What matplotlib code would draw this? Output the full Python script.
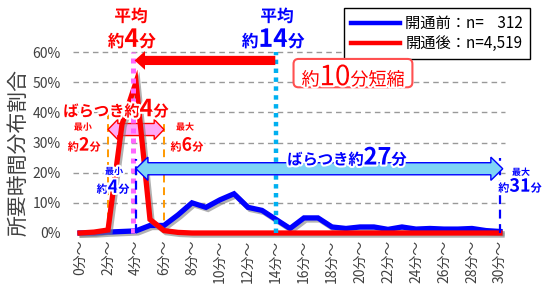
import matplotlib
matplotlib.use('Agg')
import matplotlib.pyplot as plt
import matplotlib.patheffects as pe
from matplotlib.patches import Polygon, FancyBboxPatch
from matplotlib.transforms import IdentityTransform
from matplotlib.ticker import PercentFormatter
from matplotlib.lines import Line2D

plt.rcParams['font.family'] = ['Noto Sans CJK JP', 'DejaVu Sans']

# data (share of trips per 1-minute travel-time bin)
minutes = list(range(31))
before = [0, 0, 0.3, 0.5, 0.7, 2.5, 2.5, 6, 10, 8.5, 11, 13, 8.5, 7.5, 4.5, 1.5,
          5, 5, 2, 1.5, 2, 2, 1.2, 2, 1.3, 1.5, 1.3, 1.3, 1.5, 0.8, 0.5]
after = [0, 0.3, 1.0, 36, 50, 4.5, 0.8, 0.2, 0, 0, 0, 0, 0, 0, 0, 0,
         0, 0, 0, 0, 0, 0, 0, 0, 0, 0, 0, 0, 0, 0, 0]
before = [v / 100 for v in before]
after = [v / 100 for v in after]
tick_pos = list(range(0, 31, 2))
tick_labels = [f'{m}分～' for m in tick_pos]
legend_labels = ['開通前：n=    312', '開通後：n=4,519']

RED = '#FF0000'
BLUE = '#0000FF'
GRAY = '#404040'

fig = plt.figure(figsize=(5.52, 2.88), dpi=100)
ax = fig.add_axes([73 / 552, 55 / 288, 432 / 552, 181 / 288])
ax.set_xlim(-0.5, 30.36)
ax.set_ylim(0, 0.6)
for s in ax.spines.values():
    s.set_visible(False)
ax.set_yticks([0, 0.1, 0.2, 0.3, 0.4, 0.5, 0.6])
ax.yaxis.set_major_formatter(PercentFormatter(1.0, decimals=0))
ax.set_xticks(tick_pos)
ax.set_xticklabels(tick_labels, rotation=90)
ax.tick_params(length=0, labelsize=10, labelcolor=GRAY)
ax.tick_params(axis='y', pad=9)
ax.tick_params(axis='x', pad=5)
for g in [0.1, 0.2, 0.3, 0.4, 0.5, 0.6]:
    ax.axhline(g, color='#999999', lw=1, dashes=(4, 3), zorder=0, clip_on=False)

fig.text(19 / 552, 1 - 152 / 288, '所要時間分布割合', rotation=90, ha='center',
         va='center', fontsize=15, color=GRAY)

shadow = [pe.SimpleLineShadow(offset=(1.5, -1.5), shadow_color='#808080', alpha=0.6), pe.Normal()]
ax.plot(minutes, before, color=BLUE, lw=3.8, zorder=3, clip_on=False, path_effects=shadow,
        solid_joinstyle='miter')
ax.plot(minutes, after, color=RED, lw=3.8, zorder=4, clip_on=False, path_effects=shadow,
        solid_joinstyle='miter')

# reference lines
ax.plot([3.8, 3.8], [0, 0.6], color='#FF66FF', lw=3.6, linestyle=(0, (1, 1)),
        dash_capstyle='butt', zorder=5, clip_on=False)
ax.plot([14, 14], [0, 0.6], color='#00B0F0', lw=3.2, linestyle=(0, (1, 1)),
        dash_capstyle='butt', zorder=5, clip_on=False)
for xv in [2, 6]:
    ax.plot([xv, xv], [0, 0.41], color='#FF9900', lw=1.4, dashes=(4, 2.5), zorder=2)
for xv, top in [(4, 0.245), (30, 0.25)]:
    ax.plot([xv, xv], [0, top], color=BLUE, lw=1.6, dashes=(4, 2.5), zorder=6)


def double_arrow(x0, x1, y, body, head, hlen, fc, ec, z):
    b, h = body / 2, head / 2
    pts = [(x0, y), (x0 + hlen, y + h), (x0 + hlen, y + b), (x1 - hlen, y + b),
           (x1 - hlen, y + h), (x1, y), (x1 - hlen, y - h), (x1 - hlen, y - b),
           (x0 + hlen, y - b), (x0 + hlen, y - h)]
    ax.add_patch(Polygon(pts, closed=True, fc=fc, ec=ec, lw=1, zorder=z, clip_on=False))


double_arrow(2, 6, 0.343, 0.04, 0.067, 0.7, (1, 0.55, 0.95, 0.75), RED, 3.5)
double_arrow(4, 30.2, 0.213, 0.04, 0.077, 0.85, '#7FD4F6', BLUE, 6)
ax.annotate('', xy=(3.9, 0.572), xytext=(13.95, 0.572),
            arrowprops=dict(arrowstyle='simple,head_length=0.75,head_width=1.35,tail_width=0.66',
                            mutation_scale=10, fc=RED, ec='none', shrinkA=0, shrinkB=0),
            zorder=6)

glow = [pe.withStroke(linewidth=3, foreground='white')]
renderer = fig.canvas.get_renderer()


def rich(x, y, parts, color, va='baseline', weight='bold'):
    px, py = ax.transData.transform((x, y))
    texts = []
    for s, size in parts:
        t = fig.text(0, 0, s, fontsize=size, color=color, fontweight=weight, va=va,
                     ha='left', transform=IdentityTransform(), path_effects=glow, zorder=10)
        texts.append(t)
    widths = [t.get_window_extent(renderer).width for t in texts]
    total = sum(widths)
    cur = px - total / 2
    for t, w in zip(texts, widths):
        t.set_position((cur, py))
        cur += w
    return px - total / 2, px + total / 2


rich(3.64, 0.717, [('平均', 12)], RED, va='center')
rich(3.7, 0.617, [('約', 12), ('4', 18), ('分', 12)], RED)
rich(14.07, 0.717, [('平均', 12)], BLUE, va='center')
rich(13.8, 0.617, [('約', 12), ('14', 18), ('分', 12)], BLUE)

l, r = rich(19.5, 0.49, [('約', 13), ('10', 20), ('分短縮', 13)], RED, weight='normal')
_, ylo = ax.transData.transform((0, 0.483))
_, yhi = ax.transData.transform((0, 0.577))
box = FancyBboxPatch((l - 8, ylo), (r - l) + 16, yhi - ylo, boxstyle='round,pad=0,rounding_size=5',
                     fc='white', ec='#FF5050', lw=1.5, transform=IdentityTransform(), zorder=8)
fig.add_artist(box)

rich(2.57, 0.387, [('ばらつき約', 11), ('4', 17), ('分', 11)], RED)
rich(0.2, 0.35, [('最小', 6.5)], RED, va='center')
rich(0.3, 0.273, [('約', 8), ('2', 13), ('分', 8)], RED)
rich(7.5, 0.35, [('最大', 6.5)], RED, va='center')
rich(7.64, 0.273, [('約', 8), ('6', 13), ('分', 8)], RED)

rich(19.07, 0.227, [('ばらつき約', 11), ('27', 17), ('分', 11)], BLUE)
rich(2.43, 0.203, [('最小', 6.5)], BLUE, va='center')
rich(2.36, 0.133, [('約', 8), ('4', 13), ('分', 8)], BLUE)
rich(31.5, 0.2, [('最大', 6.5)], BLUE, va='center')
rich(31.43, 0.137, [('約', 8), ('31', 13), ('分', 8)], BLUE)

handles = [Line2D([], [], color=BLUE, lw=3.2), Line2D([], [], color=RED, lw=3.2)]
leg = fig.legend(handles, legend_labels, loc='upper right', bbox_to_anchor=(530 / 552, 1 - 8 / 288),
                 fontsize=11, frameon=True, fancybox=False, framealpha=1, edgecolor='black',
                 handlelength=3.2, handletextpad=0.35, labelspacing=0.2, borderpad=0.45,
                 borderaxespad=0)
leg.get_frame().set_linewidth(1)

fig.savefig('out.png', dpi=100)
